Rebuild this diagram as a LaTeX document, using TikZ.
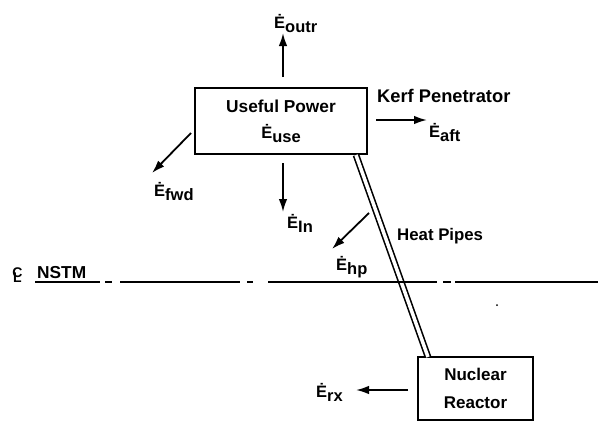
\documentclass[tikz,border=0pt]{standalone}
\usepackage{fontspec}
\setmainfont{Liberation Sans}
\usetikzlibrary{arrows.meta}
\newcommand\Ed[1]{{\fontsize{16.5}{16}\selectfont Ė}\raisebox{-4pt}{\fontsize{16.5}{16}\selectfont #1}}
\tikzset{
  lbl/.style={inner sep=0pt, anchor=base west, font=\bfseries\fontsize{17.3}{18}\selectfont},
  flow/.style={line width=1.8pt, -{Latex[length=13pt,width=8.5pt]}},
  sysbox/.style={draw, line width=1.8pt, inner sep=0pt, align=center, font=\bfseries\fontsize{17.3}{26}\selectfont},
}
\begin{document}
\begin{tikzpicture}[x=1pt,y=-1pt]
\useasboundingbox[fill=white] (0,0) rectangle (598,421);
% boxes
\node[sysbox, minimum width=172pt, minimum height=66pt] (use) at (281,121) {Useful Power\\[0pt]\Ed{use}};
\node[sysbox, minimum width=115pt, minimum height=63pt, font=\bfseries\fontsize{17}{28}\selectfont] (rx) at (475.5,388.5) {Nuclear\\Reactor};
% heat pipes
\coordinate (hpA) at (356,155);
\coordinate (hpB) at (428,357);
\draw[double, double distance=3.5pt, line width=1.6pt] (hpA) -- (hpB);
% centre line
\coordinate (clA) at (35,282);
\coordinate (clB) at (598,282);
\draw[line width=1.8pt, dash pattern=on 65pt off 5pt on 7pt off 8pt on 120pt off 7pt on 6pt off 15pt on 169pt off 6pt on 8pt off 4pt on 143pt] (clA) -- (clB);
\node[inner sep=0pt, anchor=base, font=\bfseries\fontsize{14}{14}\selectfont] (cl) at (17.5,282) {\ooalign{\raisebox{5pt}{C}\cr\hidewidth L\hidewidth}};
\node[lbl] (nstm) at (37,278) {NSTM};
% labels
\node[lbl] (outr) at (274,28) {\Ed{outr}};
\node[lbl] (aft) at (429,137) {\Ed{aft}};
\node[lbl] (fwd) at (154,196) {\Ed{fwd}};
\node[lbl] (in) at (287,228) {\Ed{In}};
\node[lbl] (hp) at (336,270) {\Ed{hp}};
\node[lbl] (erx) at (316,397) {\Ed{rx}};
\node[lbl, font=\bfseries\fontsize{18.3}{18}\selectfont] (kerf) at (377,102) {Kerf Penetrator};
\node[lbl, font=\bfseries\fontsize{16.8}{18}\selectfont] (heat) at (397,240) {Heat Pipes};
% arrow start/end points
\coordinate (o1) at (283,77); \coordinate (o2) at (283,33);
\coordinate (a1) at (376,120); \coordinate (a2) at (427,120);
\coordinate (f1) at (191,133); \coordinate (f2) at (152,173);
\coordinate (i1) at (283,163); \coordinate (i2) at (283,212);
\coordinate (h1) at (369,213); \coordinate (h2) at (332,249);
\coordinate (r1) at (408,390); \coordinate (r2) at (356,390);
\draw[flow] (o1) -- (o2);
\draw[flow] (a1) -- (a2);
\draw[flow] (f1) -- (f2);
\draw[flow] (i1) -- (i2);
\draw[flow] (h1) -- (h2);
\draw[flow] (r1) -- (r2);
\fill (497,305) circle (1pt);
\end{tikzpicture}
\end{document}
